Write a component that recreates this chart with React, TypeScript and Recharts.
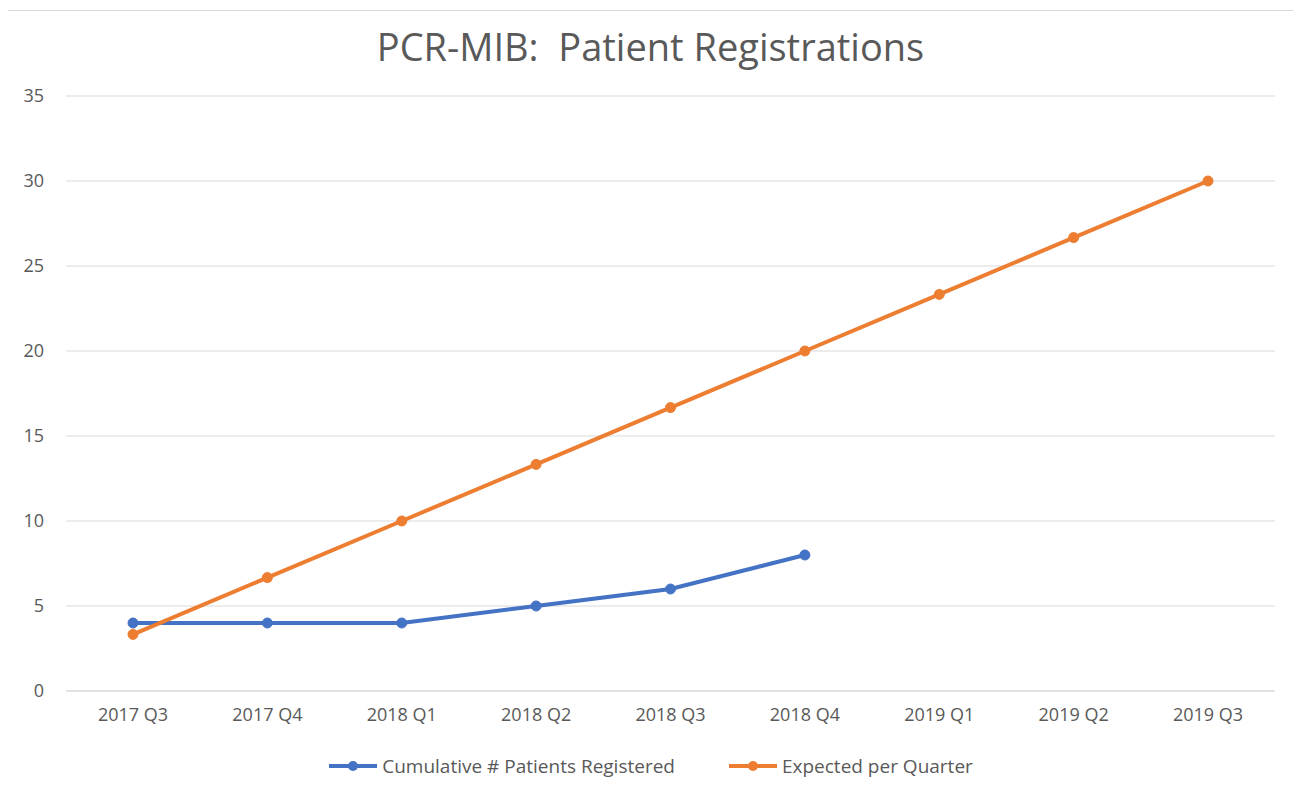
import React from "react";
import { LineChart, Line, XAxis, YAxis, CartesianGrid, Legend } from "recharts";

const quarters = ["2017 Q3", "2017 Q4", "2018 Q1", "2018 Q2", "2018 Q3", "2018 Q4", "2019 Q1", "2019 Q2", "2019 Q3"];
const cumulative: (number | null)[] = [4, 4, 4, 5, 6, 8, null, null, null];
const expected: number[] = [3.33, 6.67, 10, 13.33, 16.67, 20, 23.33, 26.67, 30];
const yTicks = [0, 5, 10, 15, 20, 25, 30, 35];

const data = quarters.map((q, i) => ({ q, cumulative: cumulative[i], expected: expected[i] }));

const FONT = "'Open Sans', sans-serif";
const TXT = "#595959";

const renderLegend = (props: any) => {
  const { payload } = props;
  return (
    <div style={{ display: "flex", justifyContent: "center", gap: 53, fontFamily: FONT, fontSize: 19, color: TXT, height: 24, lineHeight: "24px" }}>
      {payload.map((p: any) => (
        <div key={p.value} style={{ display: "flex", alignItems: "center" }}>
          <svg width={50} height={12} style={{ marginRight: 4 }}>
            <line x1={1} y1={6} x2={49} y2={6} stroke={p.color} strokeWidth={4} />
            <circle cx={25} cy={6} r={5} fill={p.color} />
          </svg>
          <span>{p.value}</span>
        </div>
      ))}
    </div>
  );
};

export default function App() {
  return (
    <div style={{ position: "relative", width: 1301, height: 789, margin: -8, background: "#fff", overflow: "hidden" }}>
      <div style={{ position: "absolute", left: 4, top: 10, width: 1292, height: 790, border: "1px solid #d9d9d9", boxSizing: "border-box" }} />
      <div style={{ position: "absolute", top: 20, left: 0, width: 1301, textAlign: "center", fontFamily: FONT, fontSize: 38, color: TXT, whiteSpace: "pre" }}>
        {"PCR-MIB:  Patient Registrations"}
      </div>
      <div style={{ position: "absolute", left: 0, top: 0 }}>
        <LineChart width={1301} height={789} data={data} margin={{ top: 96, right: 26, bottom: 34, left: 0 }}>
          <CartesianGrid vertical={false} stroke="#d9d9d9" strokeWidth={1} />
          <XAxis
            dataKey="q"
            tickLine={false}
            axisLine={{ stroke: "#d9d9d9" }}
            tickMargin={11}
            height={40}
            interval={0}
            padding={{ left: 67, right: 67 }}
            tick={{ fill: TXT, fontSize: 18, fontFamily: FONT }}
          />
          <YAxis
            domain={[0, 35]}
            ticks={yTicks}
            axisLine={false}
            tickLine={false}
            tickMargin={16}
            width={66}
            tick={{ fill: TXT, fontSize: 18, fontFamily: FONT }}
          />
          <Legend verticalAlign="bottom" content={renderLegend} wrapperStyle={{ top: 754, left: 0, width: 1301 }} />
          <Line
            name="Cumulative # Patients Registered"
            dataKey="cumulative"
            stroke="#4472C4"
            strokeWidth={4}
            dot={{ r: 5, fill: "#4472C4", stroke: "#4472C4", strokeWidth: 1 }}
            isAnimationActive={false}
          />
          <Line
            name="Expected per Quarter"
            dataKey="expected"
            stroke="#ED7D31"
            strokeWidth={4}
            dot={{ r: 5, fill: "#ED7D31", stroke: "#ED7D31", strokeWidth: 1 }}
            isAnimationActive={false}
          />
        </LineChart>
      </div>
    </div>
  );
}
